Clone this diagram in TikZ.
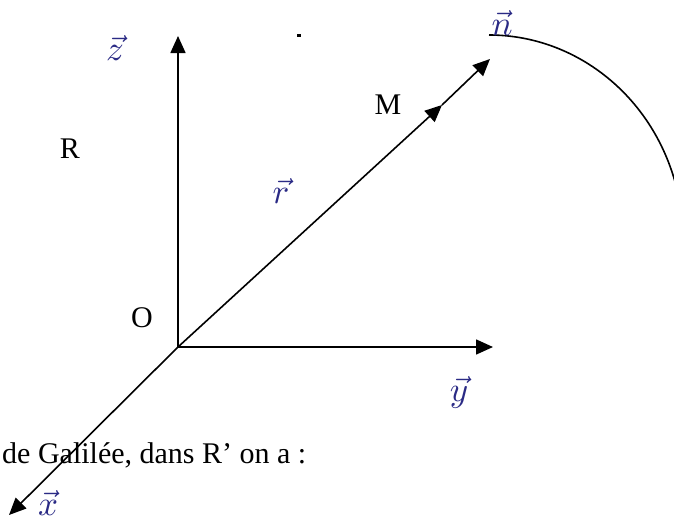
\documentclass[tikz,border=0pt]{standalone}
\usepackage{fontspec}
\setmainfont{Liberation Serif}
\usetikzlibrary{arrows.meta}
\definecolor{vecblue}{HTML}{2A2A85}
\newcommand{\bigvec}[1]{\scalebox{3.5}{$\vec{#1}$}}
\begin{document}
\begin{tikzpicture}[x=1pt,y=-1pt,
  axis/.style={line width=1.6pt,-{Triangle[length=17pt,width=15pt]}},
  lbl/.style={font=\fontsize{30}{36}\selectfont,inner sep=0pt},
  vlbl/.style={text=vecblue,inner sep=0pt}]
\useasboundingbox (0,0) rectangle (674,522);
\coordinate (O) at (178,347);
\coordinate (zt) at (178,36);
\coordinate (yt) at (493,347);
\coordinate (xt) at (9,515);
\coordinate (m) at (442,105);
\coordinate (rt) at (490,59);
\coordinate (a0) at (489,35);
\draw[axis] (O) -- (zt);
\draw[axis] (O) -- (yt);
\draw[axis] (O) -- (xt);
\draw[axis] (O) -- (m);
\draw[axis] (m) -- (rt);
\draw[line width=1.6pt] (a0) arc[start angle=-90,end angle=-16,x radius=194,y radius=205];
\fill (297,34) rectangle (301,37);
\node[vlbl] (lz) at (115,48) {\bigvec{z}};
\node[vlbl] (ln) at (502,23) {\bigvec{n}};
\node[vlbl] (lr) at (281,191) {\bigvec{r}};
\node[vlbl] (ly) at (459,392) {\bigvec{y}};
\node[vlbl] (lx) at (48,503) {\bigvec{x}};
\node[lbl] (R) at (70,149) {R};
\node[lbl] (Mlab) at (388,105) {M};
\node[lbl] (Olab) at (142,318) {O};
\node[lbl,anchor=base west] (txt) at (2,463) {de Galilée, dans R’ on a :};
\end{tikzpicture}
\end{document}
